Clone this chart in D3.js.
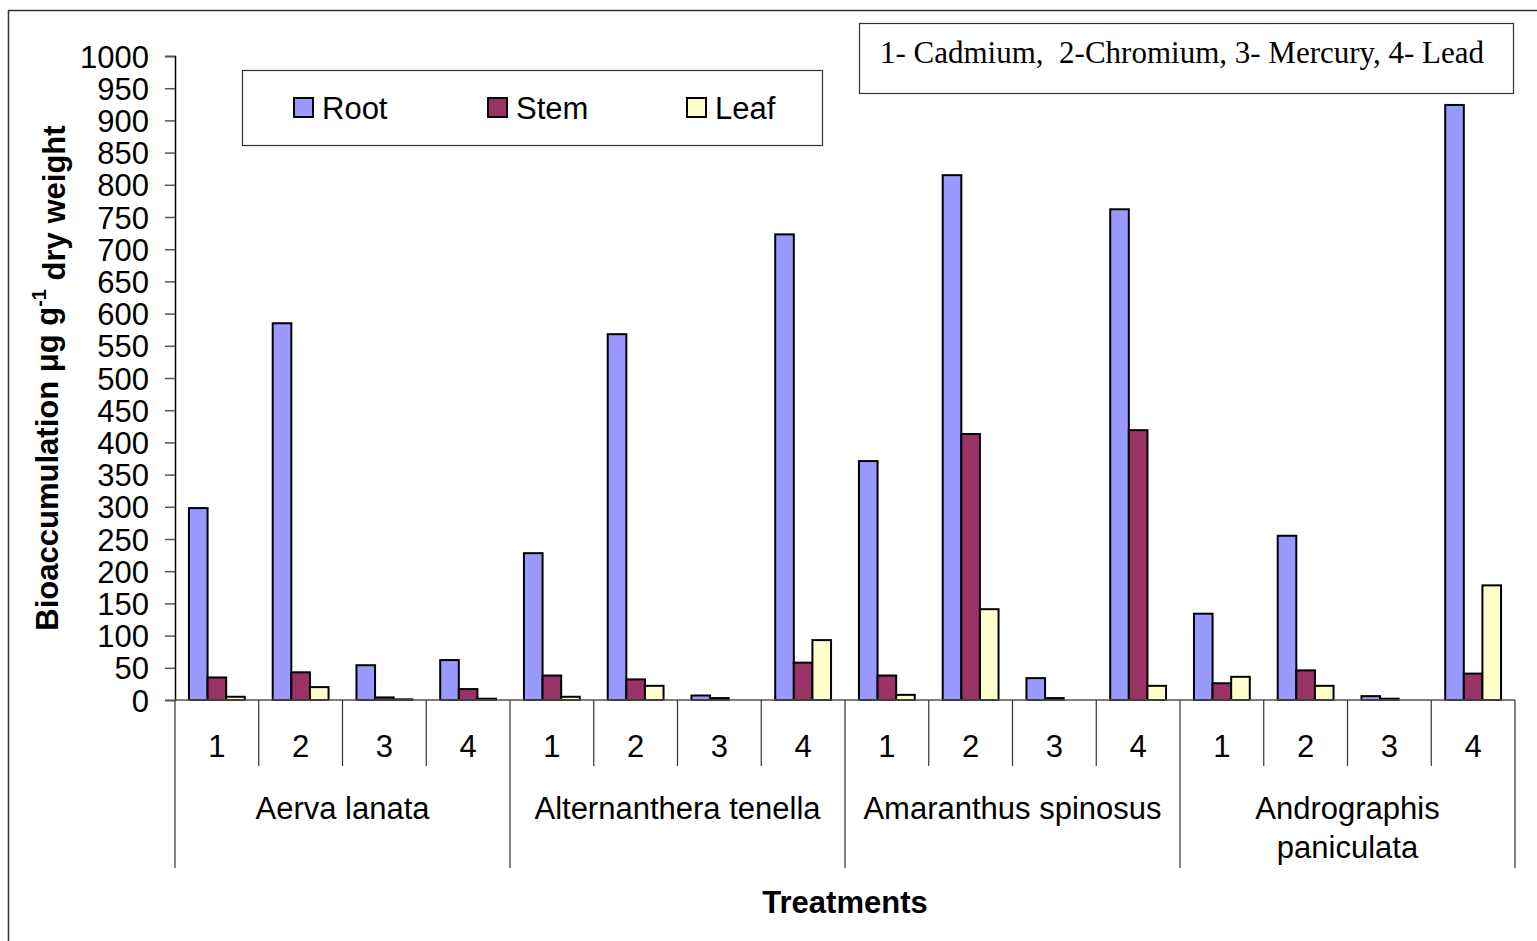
<!DOCTYPE html>
<html>
<head>
<meta charset="utf-8">
<script src="https://cdn.jsdelivr.net/npm/d3@7"></script>
<style>
  html, body { margin: 0; padding: 0; background: #fff; }
  svg { display: block; }
  text { font-family: "Liberation Sans", Arial, sans-serif; fill: #000; }
</style>
</head>
<body>
<svg id="chart" width="1537" height="941"></svg>
<script>
// Plant species (outer category level) and metal treatments (inner level)
const species = ["Aerva lanata", "Alternanthera tenella", "Amaranthus spinosus", "Andrographis paniculata"];
const treatments = ["1", "2", "3", "4"];
const seriesNames = ["Root", "Stem", "Leaf"];
const seriesColors = ["#9999FF", "#993366", "#FFFFCC"];

// Bioaccumulation (µg g-1 dry weight), 4 treatments per species, in species order
const rootValues = [298, 585, 54, 62,   228, 568, 7, 723,   371, 815, 34, 762,   134, 255, 6, 924];
const stemValues = [35, 43, 4, 17,      38, 32, 3, 58,      38, 413, 3, 419,     26, 46, 2, 41];
const leafValues = [5, 20, 1, 2,        5, 22, 0, 93,       8, 141, 0, 22,       36, 22, 0, 178];

const yTicks = d3.range(0, 1001, 50);
const treatmentNote = "1- Cadmium,  2-Chromium, 3- Mercury, 4- Lead";

const FONT = "31px";

const svg = d3.select("#chart");

// outer chart frame (continues past the right and bottom edges)
svg.append("rect")
  .attr("x", 8.5).attr("y", 10.5)
  .attr("width", 1600).attr("height", 1000)
  .attr("fill", "none").attr("stroke", "#333").attr("stroke-width", 1.5);

const plot = { left: 175, right: 1515, top: 56, bottom: 700 };

const keys = [];
species.forEach(s => treatments.forEach(t => keys.push(s + "|" + t)));

const rows = keys.map((k, i) => ({
  key: k,
  values: [rootValues[i], stemValues[i], leafValues[i]]
}));

const x0 = d3.scaleBand().domain(keys).range([plot.left, plot.right]).padding(0);
const x1 = d3.scaleBand().domain(seriesNames).range([0, x0.bandwidth()])
  .paddingInner(0).paddingOuter(0.75);
const y = d3.scaleLinear().domain([0, 1000]).range([plot.bottom, plot.top]);

// bars
const g = svg.append("g");
rows.forEach(r => {
  seriesNames.forEach((s, j) => {
    const v = r.values[j];
    if (v <= 0) return;
    g.append("rect")
      .attr("x", x0(r.key) + x1(s))
      .attr("y", y(v))
      .attr("width", x1.bandwidth())
      .attr("height", y(0) - y(v))
      .attr("fill", seriesColors[j])
      .attr("stroke", "#000")
      .attr("stroke-width", 2);
  });
});

// y axis
const yAxis = d3.axisLeft(y).tickValues(yTicks).tickSize(10).tickPadding(16)
  .tickFormat(d3.format("d"));
const ya = svg.append("g").attr("transform", `translate(${plot.left},0)`).call(yAxis);
ya.select(".domain").attr("stroke", "#000").attr("stroke-width", 1.5);
ya.selectAll(".tick line").attr("stroke", "#555").attr("stroke-width", 1.5);
ya.selectAll(".tick text").style("font-size", FONT)
  .style("font-family", "'Liberation Sans', Arial, sans-serif").attr("dy", "0.36em");

// category axis: baseline, treatment dividers, species dividers
const xa = svg.append("g");
xa.append("line")
  .attr("x1", plot.left).attr("x2", plot.right)
  .attr("y1", plot.bottom).attr("y2", plot.bottom)
  .attr("stroke", "#555").attr("stroke-width", 1.5);

keys.forEach((k, i) => {
  const xs = x0(k);
  const isGroupEdge = i % treatments.length === 0;
  xa.append("line")
    .attr("x1", xs).attr("x2", xs)
    .attr("y1", plot.bottom).attr("y2", isGroupEdge ? 868 : 766)
    .attr("stroke", "#333").attr("stroke-width", 1.2);
  xa.append("text")
    .attr("x", xs + x0.bandwidth() / 2).attr("y", 757)
    .attr("text-anchor", "middle").style("font-size", FONT)
    .text(k.split("|")[1]);
});
xa.append("line")
  .attr("x1", plot.right).attr("x2", plot.right)
  .attr("y1", plot.bottom).attr("y2", 868)
  .attr("stroke", "#333").attr("stroke-width", 1.2);

// species labels (long names wrap onto two lines)
species.forEach((s, i) => {
  const x = x0(s + "|1");
  const cx = x + x0.bandwidth() * treatments.length / 2;
  const lines = s === "Andrographis paniculata" ? ["Andrographis", "paniculata"] : [s];
  lines.forEach((ln, li) => {
    xa.append("text")
      .attr("x", cx).attr("y", 819 + li * 39)
      .attr("text-anchor", "middle").style("font-size", FONT)
      .text(ln);
  });
});

// axis titles
svg.append("text")
  .attr("x", 845).attr("y", 913)
  .attr("text-anchor", "middle")
  .style("font-size", "31px").style("font-weight", "bold")
  .text("Treatments");

const yt = svg.append("text")
  .attr("transform", "translate(58,378) rotate(-90)")
  .attr("text-anchor", "middle")
  .style("font-size", "31px").style("font-weight", "bold");
yt.append("tspan").text("Bioaccumulation μg g");
yt.append("tspan").attr("dy", "-0.6em").style("font-size", "20px").text("-1");
yt.append("tspan").attr("dy", "0.6em").text(" dry weight");

// series legend
const lg = svg.append("g");
lg.append("rect")
  .attr("x", 242.5).attr("y", 70.5).attr("width", 580).attr("height", 75)
  .attr("fill", "#fff").attr("stroke", "#333").attr("stroke-width", 1.2);
const legendX = [294, 488, 687];
seriesNames.forEach((s, j) => {
  lg.append("rect")
    .attr("x", legendX[j]).attr("y", 98).attr("width", 19).attr("height", 19)
    .attr("fill", seriesColors[j]).attr("stroke", "#000").attr("stroke-width", 2);
  lg.append("text")
    .attr("x", legendX[j] + 28).attr("y", 119)
    .style("font-size", FONT).text(s);
});

// treatment key box
const nb = svg.append("g");
nb.append("rect")
  .attr("x", 859.5).attr("y", 23.5).attr("width", 654).attr("height", 70)
  .attr("fill", "#fff").attr("stroke", "#333").attr("stroke-width", 1.2);
nb.append("text")
  .attr("x", 880).attr("y", 63)
  .style("font-family", "'Liberation Serif', 'Times New Roman', serif")
  .style("font-size", "31px")
  .style("white-space", "pre")
  .text(treatmentNote);
</script>
</body>
</html>
